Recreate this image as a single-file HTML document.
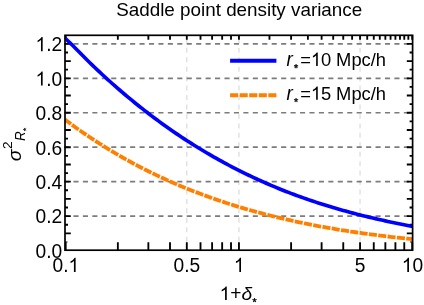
<!DOCTYPE html>
<html><head><meta charset="utf-8"><title>Saddle point density variance</title>
<style>html,body{margin:0;padding:0;background:#fff}body{width:424px;height:305px;overflow:hidden}</style></head>
<body>
<svg width="424" height="305" viewBox="0 0 424 305" style="display:block;will-change:transform">
<rect width="424" height="305" fill="#fff"/>
<line x1="186.80" y1="251.1" x2="186.80" y2="35.3" stroke="#dedede" stroke-width="1.3" stroke-dasharray="5 4.44"/>
<line x1="238.95" y1="251.1" x2="238.95" y2="35.3" stroke="#dedede" stroke-width="1.3" stroke-dasharray="5 4.44"/>
<line x1="360.05" y1="251.1" x2="360.05" y2="35.3" stroke="#dedede" stroke-width="1.3" stroke-dasharray="5 4.44"/>
<line x1="64" y1="216.14" x2="412.6" y2="216.14" stroke="#7c7c7c" stroke-width="1.7" stroke-dasharray="5.1 4.34"/>
<line x1="64" y1="181.68" x2="412.6" y2="181.68" stroke="#7c7c7c" stroke-width="1.7" stroke-dasharray="5.1 4.34"/>
<line x1="64" y1="147.22" x2="412.6" y2="147.22" stroke="#7c7c7c" stroke-width="1.7" stroke-dasharray="5.1 4.34"/>
<line x1="64" y1="112.76" x2="412.6" y2="112.76" stroke="#7c7c7c" stroke-width="1.7" stroke-dasharray="5.1 4.34"/>
<line x1="64" y1="78.30" x2="412.6" y2="78.30" stroke="#7c7c7c" stroke-width="1.7" stroke-dasharray="5.1 4.34"/>
<line x1="64" y1="43.84" x2="412.6" y2="43.84" stroke="#7c7c7c" stroke-width="1.7" stroke-dasharray="5.1 4.34"/>
<path d="M65.0 233.37h5.8 M412.6 233.37h-5.8 M65.0 224.75h3.0 M412.6 224.75h-3.0 M65.0 216.14h5.8 M412.6 216.14h-5.8 M65.0 207.52h3.0 M412.6 207.52h-3.0 M65.0 198.91h5.8 M412.6 198.91h-5.8 M65.0 190.29h3.0 M412.6 190.29h-3.0 M65.0 181.68h5.8 M412.6 181.68h-5.8 M65.0 173.06h3.0 M412.6 173.06h-3.0 M65.0 164.45h5.8 M412.6 164.45h-5.8 M65.0 155.83h3.0 M412.6 155.83h-3.0 M65.0 147.22h5.8 M412.6 147.22h-5.8 M65.0 138.60h3.0 M412.6 138.60h-3.0 M65.0 129.99h5.8 M412.6 129.99h-5.8 M65.0 121.37h3.0 M412.6 121.37h-3.0 M65.0 112.76h5.8 M412.6 112.76h-5.8 M65.0 104.14h3.0 M412.6 104.14h-3.0 M65.0 95.53h5.8 M412.6 95.53h-5.8 M65.0 86.91h3.0 M412.6 86.91h-3.0 M65.0 78.30h5.8 M412.6 78.30h-5.8 M65.0 69.68h3.0 M412.6 69.68h-3.0 M65.0 61.07h5.8 M412.6 61.07h-5.8 M65.0 52.45h3.0 M412.6 52.45h-3.0 M65.0 43.84h5.8 M412.6 43.84h-5.8 M65.70 250.2v-7.9 M117.85 250.2v-7.9 M148.36 250.2v-7.9 M170.01 250.2v-7.9 M186.80 250.2v-7.9 M200.51 250.2v-7.9 M212.11 250.2v-7.9 M222.16 250.2v-7.9 M231.02 250.2v-7.9 M238.95 250.2v-7.9 M291.10 250.2v-7.9 M321.61 250.2v-7.9 M343.26 250.2v-7.9 M360.05 250.2v-7.9 M373.76 250.2v-7.9 M385.36 250.2v-7.9 M395.41 250.2v-7.9 M404.27 250.2v-7.9 M412.20 250.2v-7.9 M65.70 35.3v4.4 M117.85 35.3v4.4 M148.36 35.3v4.4 M170.01 35.3v4.4 M186.80 35.3v4.4 M200.51 35.3v4.4 M212.11 35.3v4.4 M222.16 35.3v4.4 M231.02 35.3v4.4 M238.95 35.3v4.4 M269.46 35.3v4.4 M291.10 35.3v4.4 M307.89 35.3v4.4 M321.61 35.3v4.4 M333.21 35.3v4.4 M343.26 35.3v4.4 M352.12 35.3v4.4 M360.05 35.3v4.4 M367.22 35.3v4.4 M373.76 35.3v4.4 M379.79 35.3v4.4 M385.36 35.3v4.4 M390.55 35.3v4.4 M395.41 35.3v4.4 M399.97 35.3v4.4 M404.27 35.3v4.4 M408.34 35.3v4.4 M412.20 35.3v4.4" stroke="#000" stroke-width="1.85" fill="none"/>
<path d="M65.0 241.98h2.5 M412.6 241.98h-2.5" stroke="#000" stroke-width="1.1" fill="none"/>
<clipPath id="c"><rect x="65.0" y="35.3" width="347.6" height="214.89999999999998"/></clipPath>
<g clip-path="url(#c)" fill="none">
<path d="M65.00,38.18 L67.48,40.55 L69.97,42.87 L72.45,45.31 L74.93,47.70 L77.41,50.20 L79.90,52.77 L82.38,55.30 L84.86,57.79 L87.35,60.26 L89.83,62.69 L92.31,65.09 L94.79,67.48 L97.28,69.84 L99.76,72.18 L102.24,74.48 L104.73,76.76 L107.21,79.03 L109.69,81.27 L112.17,83.49 L114.66,85.68 L117.14,87.85 L119.62,90.00 L122.11,92.13 L124.59,94.24 L127.07,96.33 L129.55,98.40 L132.04,100.45 L134.52,102.48 L137.00,104.48 L139.49,106.47 L141.97,108.44 L144.45,110.38 L146.93,112.31 L149.42,114.21 L151.90,116.09 L154.38,117.95 L156.87,119.79 L159.35,121.61 L161.83,123.42 L164.31,125.21 L166.80,126.98 L169.28,128.73 L171.76,130.46 L174.25,132.18 L176.73,133.87 L179.21,135.55 L181.69,137.22 L184.18,138.86 L186.66,140.48 L189.14,142.08 L191.63,143.65 L194.11,145.21 L196.59,146.75 L199.07,148.27 L201.56,149.78 L204.04,151.27 L206.52,152.74 L209.01,154.19 L211.49,155.63 L213.97,157.06 L216.45,158.46 L218.94,159.85 L221.42,161.22 L223.90,162.58 L226.39,163.92 L228.87,165.24 L231.35,166.55 L233.83,167.84 L236.32,169.12 L238.80,170.38 L241.28,171.62 L243.77,172.85 L246.25,174.06 L248.73,175.26 L251.21,176.44 L253.70,177.61 L256.18,178.76 L258.66,179.90 L261.15,181.02 L263.63,182.12 L266.11,183.22 L268.59,184.29 L271.08,185.35 L273.56,186.40 L276.04,187.44 L278.53,188.45 L281.01,189.46 L283.49,190.45 L285.97,191.43 L288.46,192.39 L290.94,193.34 L293.42,194.28 L295.91,195.20 L298.39,196.11 L300.87,197.01 L303.35,197.89 L305.84,198.76 L308.32,199.62 L310.80,200.47 L313.29,201.30 L315.77,202.13 L318.25,202.94 L320.73,203.74 L323.22,204.52 L325.70,205.30 L328.18,206.06 L330.67,206.82 L333.15,207.56 L335.63,208.29 L338.11,209.01 L340.60,209.72 L343.08,210.42 L345.56,211.11 L348.05,211.79 L350.53,212.46 L353.01,213.12 L355.49,213.77 L357.98,214.41 L360.46,215.05 L362.94,215.67 L365.43,216.28 L367.91,216.89 L370.39,217.48 L372.87,218.07 L375.36,218.65 L377.84,219.22 L380.32,219.79 L382.81,220.34 L385.29,220.89 L387.77,221.43 L390.25,221.96 L392.74,222.49 L395.22,223.00 L397.70,223.52 L400.19,224.02 L402.67,224.52 L405.15,225.01 L407.63,225.49 L410.12,225.97 L412.60,226.44" stroke="#0000ff" stroke-width="3.65" stroke-linejoin="round"/>
<path d="M65.00,119.58 L67.48,121.45 L69.97,123.29 L72.45,125.12 L74.93,126.92 L77.41,128.69 L79.90,130.45 L82.38,132.19 L84.86,133.90 L87.35,135.60 L89.83,137.27 L92.31,138.92 L94.79,140.55 L97.28,142.17 L99.76,143.76 L102.24,145.33 L104.73,146.88 L107.21,148.42 L109.69,149.93 L112.17,151.43 L114.66,152.91 L117.14,154.36 L119.62,155.81 L122.11,157.23 L124.59,158.63 L127.07,160.02 L129.55,161.39 L132.04,162.74 L134.52,164.08 L137.00,165.40 L139.49,166.70 L141.97,167.98 L144.45,169.25 L146.93,170.50 L149.42,171.74 L151.90,172.96 L154.38,174.16 L156.87,175.35 L159.35,176.53 L161.83,177.68 L164.31,178.83 L166.80,179.95 L169.28,181.07 L171.76,182.17 L174.25,183.25 L176.73,184.32 L179.21,185.38 L181.69,186.42 L184.18,187.45 L186.66,188.46 L189.14,189.46 L191.63,190.45 L194.11,191.42 L196.59,192.38 L199.07,193.33 L201.56,194.27 L204.04,195.19 L206.52,196.10 L209.01,197.00 L211.49,197.88 L213.97,198.76 L216.45,199.62 L218.94,200.47 L221.42,201.30 L223.90,202.13 L226.39,202.94 L228.87,203.75 L231.35,204.54 L233.83,205.32 L236.32,206.09 L238.80,206.85 L241.28,207.59 L243.77,208.33 L246.25,209.06 L248.73,209.77 L251.21,210.48 L253.70,211.17 L256.18,211.86 L258.66,212.54 L261.15,213.20 L263.63,213.86 L266.11,214.50 L268.59,215.14 L271.08,215.77 L273.56,216.39 L276.04,217.00 L278.53,217.60 L281.01,218.19 L283.49,218.77 L285.97,219.34 L288.46,219.91 L290.94,220.47 L293.42,221.01 L295.91,221.55 L298.39,222.08 L300.87,222.61 L303.35,223.12 L305.84,223.63 L308.32,224.13 L310.80,224.62 L313.29,225.11 L315.77,225.58 L318.25,226.05 L320.73,226.51 L323.22,226.97 L325.70,227.41 L328.18,227.85 L330.67,228.29 L333.15,228.71 L335.63,229.13 L338.11,229.54 L340.60,229.95 L343.08,230.35 L345.56,230.74 L348.05,231.13 L350.53,231.51 L353.01,231.88 L355.49,232.25 L357.98,232.61 L360.46,232.97 L362.94,233.32 L365.43,233.66 L367.91,234.00 L370.39,234.33 L372.87,234.66 L375.36,234.98 L377.84,235.29 L380.32,235.60 L382.81,235.91 L385.29,236.21 L387.77,236.50 L390.25,236.79 L392.74,237.08 L395.22,237.35 L397.70,237.63 L400.19,237.90 L402.67,238.16 L405.15,238.42 L407.63,238.68 L410.12,238.93 L412.60,239.18" stroke="#ff8000" stroke-width="3.8" stroke-dasharray="8.08 1.325" stroke-dashoffset="0.6" stroke-linejoin="round"/>
</g>
<rect x="65.0" y="35.3" width="347.6" height="214.89999999999998" fill="none" stroke="#000" stroke-width="1.7"/>
<text transform="translate(35.51 257.60) scale(1 1.07)" font-family="Liberation Sans, sans-serif" font-size="19.2" text-anchor="start" >0.0</text>
<text transform="translate(35.51 223.44) scale(1 1.07)" font-family="Liberation Sans, sans-serif" font-size="19.2" text-anchor="start" >0.2</text>
<text transform="translate(35.51 188.98) scale(1 1.07)" font-family="Liberation Sans, sans-serif" font-size="19.2" text-anchor="start" >0.4</text>
<text transform="translate(35.51 154.52) scale(1 1.07)" font-family="Liberation Sans, sans-serif" font-size="19.2" text-anchor="start" >0.6</text>
<text transform="translate(35.51 120.06) scale(1 1.07)" font-family="Liberation Sans, sans-serif" font-size="19.2" text-anchor="start" >0.8</text>
<path transform="translate(35.51 85.60) scale(0.00937 -0.00965)" d="M763 0H583V1147Q518 1085 412.5 1023T223 930V1104Q374 1175 487 1276T647 1472H763Z"/><text transform="translate(46.19 85.60) scale(1 1.07)" font-family="Liberation Sans, sans-serif" font-size="19.2" text-anchor="start" >.0</text>
<path transform="translate(35.51 51.14) scale(0.00937 -0.00965)" d="M763 0H583V1147Q518 1085 412.5 1023T223 930V1104Q374 1175 487 1276T647 1472H763Z"/><text transform="translate(46.19 51.14) scale(1 1.07)" font-family="Liberation Sans, sans-serif" font-size="19.2" text-anchor="start" >.2</text>
<text transform="translate(52.46 272.00) scale(1 1.07)" font-family="Liberation Sans, sans-serif" font-size="19.2" text-anchor="start" >0.</text><path transform="translate(68.47 272.00) scale(0.00937 -0.00965)" d="M763 0H583V1147Q518 1085 412.5 1023T223 930V1104Q374 1175 487 1276T647 1472H763Z"/>
<text transform="translate(173.55 272.00) scale(1 1.07)" font-family="Liberation Sans, sans-serif" font-size="19.2" text-anchor="start" >0.5</text>
<path transform="translate(233.86 272.00) scale(0.00937 -0.00965)" d="M763 0H583V1147Q518 1085 412.5 1023T223 930V1104Q374 1175 487 1276T647 1472H763Z"/>
<text transform="translate(354.84 272.00) scale(1 1.07)" font-family="Liberation Sans, sans-serif" font-size="19.2" text-anchor="start" >5</text>
<path transform="translate(401.82 272.00) scale(0.00937 -0.00965)" d="M763 0H583V1147Q518 1085 412.5 1023T223 930V1104Q374 1175 487 1276T647 1472H763Z"/><text transform="translate(412.50 272.00) scale(1 1.07)" font-family="Liberation Sans, sans-serif" font-size="19.2" text-anchor="start" >0</text>
<text transform="translate(239.20 16.30) scale(1 1.0)" font-family="Liberation Sans, sans-serif" font-size="18.84" text-anchor="middle" >Saddle point density variance</text>
<path transform="translate(219.60 299.90) scale(0.00937 -0.00911)" d="M763 0H583V1147Q518 1085 412.5 1023T223 930V1104Q374 1175 487 1276T647 1472H763Z"/><text transform="translate(230.28 299.90) scale(1 1.01)" font-family="Liberation Sans, sans-serif" font-size="19.2" text-anchor="start" >+</text>
<text transform="translate(241.49 299.90) scale(1 0.975)" font-family="Liberation Sans, sans-serif" font-size="19.2" text-anchor="start" font-style="italic">δ</text>
<path d="M254.50 300.10L254.50 297.90M254.50 300.10L256.59 299.42M254.50 300.10L255.79 301.88M254.50 300.10L253.21 301.88M254.50 300.10L252.41 299.42" stroke="#111" stroke-width="1.1" fill="none"/>
<g transform="translate(21.3 160.5) rotate(-90)"><text transform="translate(-0.70 0.00) scale(1 0.94)" font-family="Liberation Sans, sans-serif" font-size="19.2" text-anchor="start" font-style="italic">σ</text><text transform="translate(11.60 -9.00) scale(1 0.92)" font-family="Liberation Sans, sans-serif" font-size="13.8" text-anchor="start" >2</text><text transform="translate(19.60 3.20) scale(1 1.06)" font-family="Liberation Sans, sans-serif" font-size="13.5" text-anchor="start" font-style="italic">R</text></g>
<path d="M24.80 129.50L23.10 129.50M24.80 129.50L24.27 127.88M24.80 129.50L26.18 128.50M24.80 129.50L26.18 130.50M24.80 129.50L24.27 131.12" stroke="#111" stroke-width="0.85" fill="none"/>
<line x1="230.1" y1="60.8" x2="276.4" y2="60.8" stroke="#0000ff" stroke-width="4.1"/>
<line x1="230.1" y1="95.2" x2="276.4" y2="95.2" stroke="#ff8000" stroke-width="4.1" stroke-dasharray="8.1 1.45"/>
<text transform="translate(286.50 65.90) scale(1 1.03)" font-family="Liberation Sans, sans-serif" font-size="18.8" text-anchor="start" font-style="italic">r</text>
<path d="M296.05 66.30L296.05 64.10M296.05 66.30L298.14 65.62M296.05 66.30L297.34 68.08M296.05 66.30L294.76 68.08M296.05 66.30L293.96 65.62" stroke="#111" stroke-width="1.1" fill="none"/>
<text transform="translate(300.20 65.90) scale(1 1.05)" font-family="Liberation Sans, sans-serif" font-size="18.35" text-anchor="start" >=</text><path transform="translate(310.92 65.90) scale(0.00896 -0.00905)" d="M763 0H583V1147Q518 1085 412.5 1023T223 930V1104Q374 1175 487 1276T647 1472H763Z"/><text transform="translate(321.12 65.90) scale(1 1.05)" font-family="Liberation Sans, sans-serif" font-size="18.35" text-anchor="start" >0</text>
<text transform="translate(336.12 65.75) scale(1 1.01)" font-family="Liberation Sans, sans-serif" font-size="18.35" text-anchor="start" >Mpc/h</text>
<text transform="translate(286.50 99.80) scale(1 1.03)" font-family="Liberation Sans, sans-serif" font-size="18.8" text-anchor="start" font-style="italic">r</text>
<path d="M296.05 100.20L296.05 98.00M296.05 100.20L298.14 99.52M296.05 100.20L297.34 101.98M296.05 100.20L294.76 101.98M296.05 100.20L293.96 99.52" stroke="#111" stroke-width="1.1" fill="none"/>
<text transform="translate(300.20 99.80) scale(1 1.05)" font-family="Liberation Sans, sans-serif" font-size="18.35" text-anchor="start" >=</text><path transform="translate(310.92 99.80) scale(0.00896 -0.00905)" d="M763 0H583V1147Q518 1085 412.5 1023T223 930V1104Q374 1175 487 1276T647 1472H763Z"/><text transform="translate(321.12 99.80) scale(1 1.05)" font-family="Liberation Sans, sans-serif" font-size="18.35" text-anchor="start" >5</text>
<text transform="translate(336.12 99.65) scale(1 1.01)" font-family="Liberation Sans, sans-serif" font-size="18.35" text-anchor="start" >Mpc/h</text>
</svg>
</body></html>
